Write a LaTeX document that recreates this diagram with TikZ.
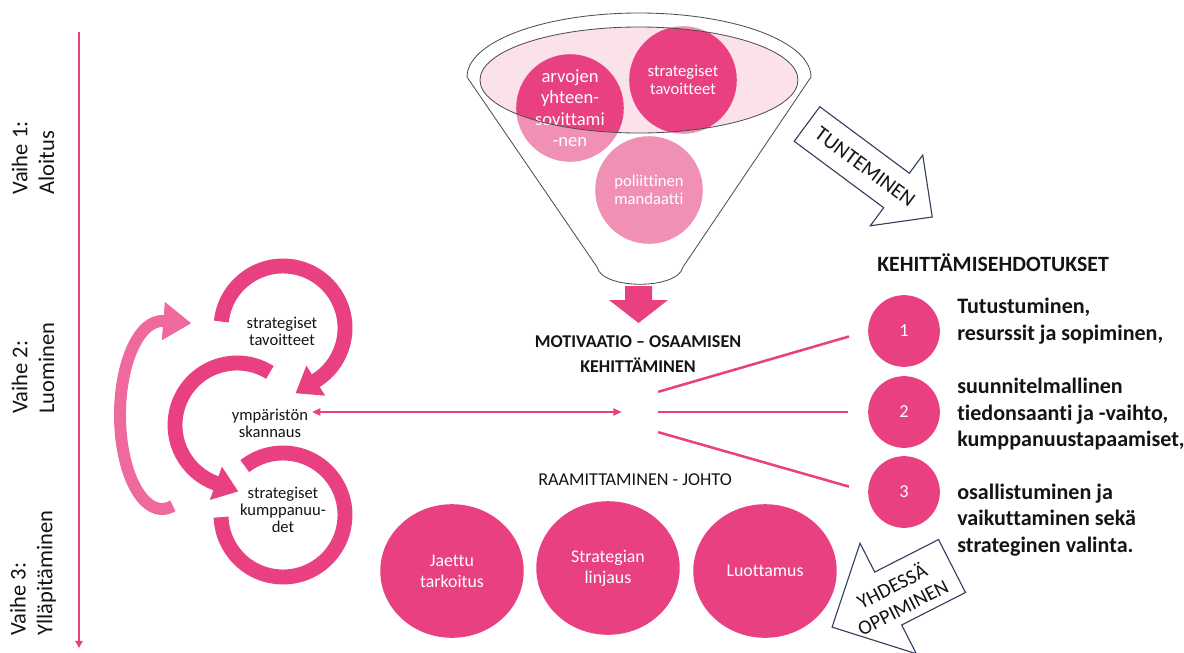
\documentclass[tikz,border=0pt]{standalone}
\usepackage{fontspec}
\setmainfont{Carlito}[Ligatures={TeX,NoCommon}]
\usetikzlibrary{arrows.meta, shapes.geometric, positioning}
\definecolor{rosepink}{RGB}{232,64,128}
\definecolor{lightrose}{RGB}{239,105,158}
\definecolor{funnelpink}{RGB}{251,225,234}
\definecolor{funnelgray}{RGB}{80,80,80}
\definecolor{arrowblue}{RGB}{50,64,96}
\definecolor{inktext}{RGB}{20,20,20}
\newcommand{\fsz}[2]{\fontsize{#1}{#2}\selectfont}

\begin{document}
\begin{tikzpicture}[x=0.025cm, y=-0.025cm,
    ringarc/.style={draw=rosepink, line width=10.6pt},
    ringtext/.style={align=center, text=inktext, font=\fsz{11.8pt}{12.2pt}},
    ball/.style={circle, fill=rosepink, minimum size=76.5pt, inner sep=0pt, text=white, align=center},
    numball/.style={circle, fill=rosepink, minimum size=51pt, inner sep=0pt, text=white, font=\fsz{13pt}{15pt}},
    bigball/.style={ellipse, fill=rosepink, minimum width=102pt, minimum height=95pt, inner sep=0pt, text=white, align=center, font=\fsz{12.7pt}{15pt}},
    itemtext/.style={anchor=west, align=left, inner sep=0pt, text=inktext, font=\bfseries\fsz{15.7pt}{18.8pt}},
    phase/.style={rotate=90, align=left, text=inktext, font=\fsz{16pt}{19pt}},
    fanline/.style={draw=rosepink, line width=1.8pt, shorten >=14pt},
    blockarrow/.style={draw=arrowblue, line width=0.8pt, fill=white, line join=miter},
    funnelline/.style={draw=funnelgray, line width=0.6pt}
]
\useasboundingbox (0,0) rectangle (1184,652);

% phase axis and labels
\coordinate (axistop) at (79,32);
\coordinate (axisbot) at (79,648);
\draw[rosepink, line width=1.4pt, -{Triangle[length=5pt,width=5pt]}] (axistop) -- (axisbot);
\node[phase] (vaihe1) at (33,158) {Vaihe 1:\\Aloitus};
\node[phase] (vaihe2) at (33,368) {Vaihe 2:\\Luominen};
\node[phase] (vaihe3) at (33,573) {Vaihe 3:\\Ylläpitäminen};

% funnel
\fill[funnelpink] (639,80) ellipse[x radius=159, y radius=53];
\node[ball, font=\fsz{13.2pt}{15.2pt}] (arvot) at (570,108) {arvojen\\yhteen-\\sovittami\\-nen};
\node[ball, font=\fsz{11.8pt}{12.8pt}] (tavoite) at (683,80) {strategiset\\tavoitteet};
\node[ball, font=\fsz{11.8pt}{12.8pt}] (mandaatti) at (649,190) {poliittinen\\mandaatti};
\fill[white, opacity=0.42, even odd rule] (467,77) arc[start angle=180, end angle=360, x radius=172, y radius=64]
    -- (683,267) .. controls (678,290) and (602,290) .. (597,267) -- cycle
    (639,80) ellipse[x radius=159, y radius=53];
\draw[funnelline] (467,77) arc[start angle=180, end angle=360, x radius=172, y radius=64]
    -- (683,267) .. controls (678,290) and (602,290) .. (597,267) -- cycle;
\draw[funnelline] (639,80) ellipse[x radius=159, y radius=53];
\fill[rosepink] (625,286) -- (652,286) -- (652,300) -- (668,300) -- (638.5,323) -- (609,300) -- (625,300) -- cycle;

% centre
\node[font=\bfseries\fsz{12.8pt}{17.7pt}, align=center, text=inktext] (motiv) at (638,354) {MOTIVAATIO – OSAAMISEN\\KEHITTÄMINEN};
\node[minimum width=25.5pt, minimum height=28.3pt, inner sep=0pt] (hub) at (640,412) {};
\coordinate (scanpt) at (312,412);
\draw[rosepink, line width=1.4pt, {Triangle[length=6pt,width=5pt]}-{Triangle[length=6pt,width=5pt]}] (scanpt) -- (hub.west);

% suggestions
\node[font=\bfseries\fsz{15.5pt}{17pt}, text=inktext] (ehdotus) at (993,263) {KEHITTÄMISEHDOTUKSET};
\node[numball] (n1) at (904,331) {1};
\node[numball] (n2) at (904,412) {2};
\node[numball] (n3) at (904,492) {3};
\draw[fanline] (hub.north east) -- (n1.west);
\draw[fanline] (hub.east) -- (n2.west);
\draw[fanline] (hub.south east) -- (n3.west);
\node[itemtext] (t1) at (957,321) {Tutustuminen,\\resurssit ja sopiminen,};
\node[itemtext] (t2) at (957,414) {suunnitelmallinen\\tiedonsaanti ja -vaihto,\\kumppanuustapaamiset,};
\node[itemtext] (t3) at (957,520) {osallistuminen ja\\vaikuttaminen sekä\\strateginen valinta.};

% leadership
\node[font=\fsz{12.9pt}{14pt}, text=inktext] (raami) at (635,480) {RAAMITTAMINEN - JOHTO};
\node[bigball] (jaettu) at (452,571) {Jaettu\\tarkoitus};
\node[bigball] (linjaus) at (608,568) {Strategian\\linjaus};
\node[bigball] (luotto) at (765,571) {Luottamus};

% block arrows
\begin{scope}[shift={(807,124)}, rotate=-36.6]
  \draw[blockarrow] (0,-21.5) -- (111.5,-21.5) -- (111.5,-44) -- (156,0) -- (111.5,44) -- (111.5,21.5) -- (0,21.5) -- cycle;
\end{scope}
\node[rotate=-36.6, font=\fsz{15pt}{17pt}, text=inktext] (tunt) at (865,167) {TUNTEMINEN};
\begin{scope}[shift={(952,566)}, rotate=-153]
  \draw[blockarrow] (0,-29.7) -- (71.6,-29.7) -- (71.6,-62) -- (134.6,0) -- (71.6,62) -- (71.6,29.7) -- (0,29.7) -- cycle;
\end{scope}
\node[rotate=27, align=center, font=\fsz{14.5pt}{17pt}, text=inktext] (yhdessa) at (897,596) {YHDESSÄ\\OPPIMINEN};

% cycle of rings
\draw[draw=lightrose, line width=8.5pt, -{Triangle[length=20pt,width=26pt]}] (162,415) ++(75:42 and 94)
    arc[start angle=75, end angle=272, x radius=42, y radius=94] -- ++(4.5:28);
\draw[ringarc] (283,515) ++(-128:62) arc[start angle=-128, end angle=178, radius=62];
\draw[ringarc, -{Triangle[length=17pt,width=24pt]}] (237,425) ++(-58:62) arc[start angle=-58, end angle=-250, radius=62] -- ++(20:24);
\draw[ringarc, -{Triangle[length=17pt,width=24pt]}] (283,328) ++(-174:62) arc[start angle=-174, end angle=58, radius=62] -- ++(148:24);
\node[ringtext] (tavoitteet) at (282,331) {strategiset\\tavoitteet};
\node[ringtext] (skannaus) at (270,423) {ympäristön\\skannaus};
\node[ringtext] (kumppanuus) at (283,510) {strategiset\\kumppanuu-\\det};
\end{tikzpicture}
\end{document}
